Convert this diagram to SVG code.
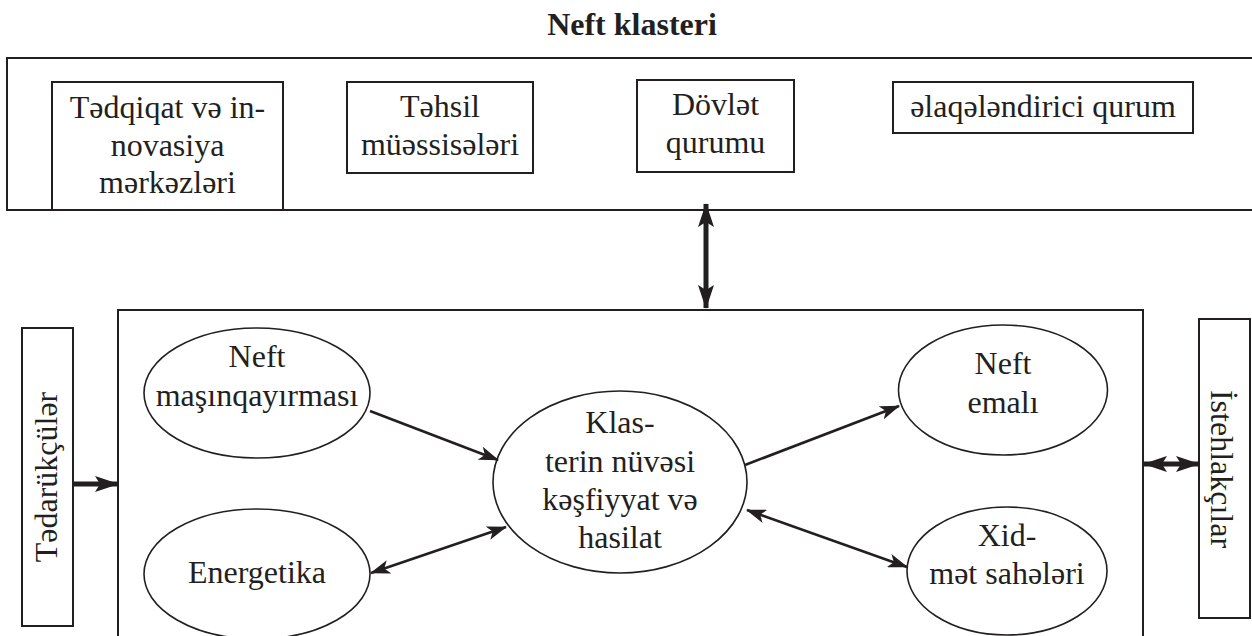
<svg xmlns="http://www.w3.org/2000/svg" width="1252" height="636" viewBox="0 0 1252 636">
<style>
  text { font-family: "Liberation Serif", "Times New Roman", "DejaVu Serif", serif; font-size: 32px; fill: #231f20; text-anchor: middle; }
  .title { font-weight: bold; }
  .box { fill: #ffffff; stroke: #231f20; stroke-width: 2; }
  .frame { fill: none; stroke: #231f20; stroke-width: 2; }
  .ell { fill: #ffffff; stroke: #231f20; stroke-width: 1.6; }
  .thin { fill: none; stroke: #231f20; stroke-width: 2.6; }
  .thick { fill: none; stroke: #231f20; stroke-width: 5; }
</style>
<defs>
  <marker id="ah" viewBox="0 0 20 14" refX="19" refY="7" markerWidth="20" markerHeight="14" markerUnits="userSpaceOnUse" orient="auto-start-reverse">
    <path d="M0,0 L20,7 L0,14 L5,7 Z" fill="#231f20"/>
  </marker>
  <marker id="ahb" viewBox="0 0 24 16" refX="23" refY="8" markerWidth="24" markerHeight="16" markerUnits="userSpaceOnUse" orient="auto-start-reverse">
    <path d="M0,0 L24,8 L0,16 L5,8 Z" fill="#231f20"/>
  </marker>
</defs>

<text class="title" x="632" y="35">Neft klasteri</text>

<g id="top-frame">
  <rect class="frame" x="7" y="58" width="1260" height="152"/>
</g>

<g id="node-tedqiqat">
  <rect class="box" x="52" y="82" width="231" height="128"/>
  <text x="167.5" y="118">Tədqiqat və in-</text>
  <text x="167.5" y="156">novasiya</text>
  <text x="167.5" y="193">mərkəzləri</text>
</g>

<g id="node-tehsil">
  <rect class="box" x="347" y="82" width="186" height="91"/>
  <text x="440" y="117">Təhsil</text>
  <text x="440" y="155">müəssisələri</text>
</g>

<g id="node-dovlet">
  <rect class="box" x="637" y="80" width="157" height="92"/>
  <text x="715.5" y="115">Dövlət</text>
  <text x="715.5" y="153">qurumu</text>
</g>

<g id="node-elaqelendirici">
  <rect class="box" x="893" y="82" width="300" height="51"/>
  <text x="1043" y="117">əlaqələndirici qurum</text>
</g>

<g id="cluster-frame">
  <rect class="frame" x="118" y="310" width="1025" height="340"/>
</g>

<g id="node-tedarukculer">
  <rect class="box" x="22" y="328" width="51" height="298"/>
  <text x="57" y="477" transform="rotate(-90 57 477)">Tədarükçülər</text>
</g>

<g id="node-istehlakcilar">
  <rect class="box" x="1199" y="319" width="51" height="299"/>
  <text x="1211" y="469" transform="rotate(90 1211 469)">İstehlakçılar</text>
</g>

<g id="node-masinqayirma">
  <ellipse class="ell" cx="257" cy="393" rx="113" ry="65"/>
  <text x="257" y="367">Neft</text>
  <text x="257" y="406">maşınqayırması</text>
</g>

<g id="node-energetika">
  <ellipse class="ell" cx="257" cy="574" rx="113" ry="65"/>
  <text x="257" y="583">Energetika</text>
</g>

<g id="node-nuve">
  <ellipse class="ell" cx="620" cy="482" rx="127" ry="91"/>
  <text x="620" y="433">Klas-</text>
  <text x="620" y="472">terin nüvəsi</text>
  <text x="620" y="510">kəşfiyyat və</text>
  <text x="620" y="548">hasilat</text>
</g>

<g id="node-emal">
  <ellipse class="ell" cx="1003" cy="390" rx="104.5" ry="65"/>
  <text x="1003" y="374">Neft</text>
  <text x="1003" y="413">emalı</text>
</g>

<g id="node-xidmet">
  <ellipse class="ell" cx="1007" cy="571" rx="100" ry="64"/>
  <text x="1007" y="546">Xid-</text>
  <text x="1007" y="584">mət sahələri</text>
</g>

<g id="connectors">
  <line class="thin" x1="370" y1="411" x2="498" y2="460" marker-end="url(#ah)"/>
  <line class="thin" x1="371" y1="573" x2="506" y2="527" marker-start="url(#ah)" marker-end="url(#ah)"/>
  <line class="thin" x1="745" y1="465" x2="899" y2="406" marker-end="url(#ah)"/>
  <line class="thin" x1="747" y1="510" x2="907" y2="567" marker-start="url(#ah)" marker-end="url(#ah)"/>
  <line class="thick" x1="706" y1="204" x2="706" y2="308" marker-start="url(#ahb)" marker-end="url(#ahb)"/>
  <line class="thick" x1="73" y1="484" x2="118" y2="484" marker-end="url(#ahb)"/>
  <line class="thick" x1="1144" y1="464" x2="1199" y2="464" marker-start="url(#ahb)" marker-end="url(#ahb)"/>
</g>
</svg>
